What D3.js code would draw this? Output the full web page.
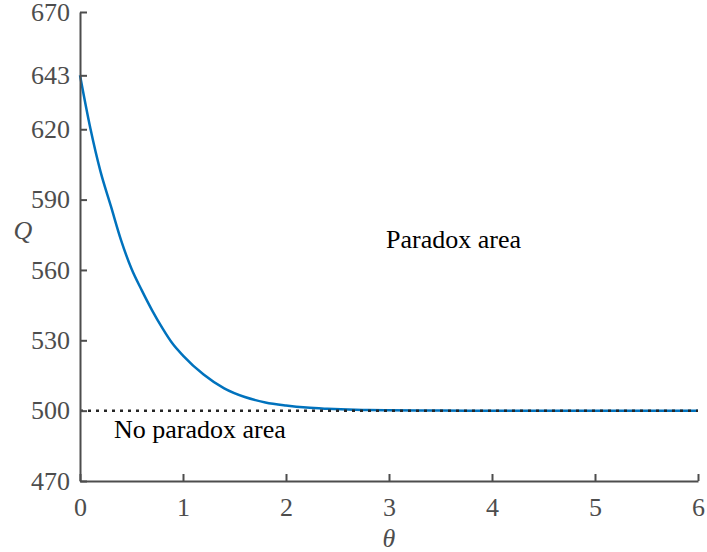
<!DOCTYPE html>
<html>
<head>
<meta charset="utf-8">
<script src="https://cdn.jsdelivr.net/npm/d3@7"></script>
<style>
  body { margin: 0; background: #fff; }
  svg { display: block; }
  svg text { font-family: "Liberation Serif", "Times New Roman", Times, "DejaVu Serif", serif; }
</style>
</head>
<body>
<div id="chart"></div>
<script>
// values
let theta = [0, 0.1, 0.2, 0.3, 0.4, 0.5, 0.6, 0.7, 0.8, 0.9, 1.0, 1.2, 1.4, 1.6, 1.8, 2.0, 2.2, 2.4, 2.6, 2.8, 3.0, 3.5, 4, 5, 6];
let Q = [643, 620.5, 601.8, 587.2, 572.5, 560.5, 551.3, 542.8, 535.2, 528.5, 523.5, 515.4, 509.5, 505.8, 503.5, 502.2, 501.3, 500.8, 500.45, 500.25, 500.12, 500.03, 500, 500, 500];
let threshold = 500;
let xTicks = [0, 1, 2, 3, 4, 5, 6];
let yTicks = [470, 500, 530, 560, 590, 620, 643, 670];
let areaLabels = ["Paradox area", "No paradox area"];

let width = 707, height = 552;
let margin = {top: 12, right: 9, bottom: 71, left: 80};
let axisColor = "#4d4d4d";

let svg = d3.select("#chart").append("svg")
  .attr("width", width)
  .attr("height", height);

let x = d3.scaleLinear().domain([0, 6]).range([margin.left, width - margin.right]);
let y = d3.scaleLinear().domain([470, 670]).range([height - margin.bottom, margin.top]);

// curve
let line = d3.line()
  .x((d, i) => x(theta[i]))
  .y(d => y(d))
  .curve(d3.curveMonotoneX);
svg.append("path")
  .datum(Q)
  .attr("d", line)
  .attr("fill", "none")
  .attr("stroke", "#0072BD")
  .attr("stroke-width", 2.5);

// dotted threshold
svg.append("line")
  .attr("x1", x(0)).attr("x2", x(6))
  .attr("y1", y(threshold)).attr("y2", y(threshold))
  .attr("stroke", "#262626")
  .attr("stroke-width", 2.5)
  .attr("stroke-dasharray", "3,5");

// axes
let xAxis = svg.append("g")
  .attr("transform", `translate(0,${height - margin.bottom})`)
  .call(d3.axisBottom(x).tickValues(xTicks).tickSize(-7).tickPadding(17).tickSizeOuter(0).tickFormat(d3.format("d")));
let yAxis = svg.append("g")
  .attr("transform", `translate(${margin.left},0)`)
  .call(d3.axisLeft(y).tickValues(yTicks).tickSize(-7).tickPadding(10).tickSizeOuter(0).tickFormat(d3.format("d")));

[xAxis, yAxis].forEach(g => {
  g.attr("font-family", null);
  g.select(".domain").attr("stroke", axisColor).attr("stroke-width", 2);
  g.selectAll(".tick line").attr("stroke", axisColor).attr("stroke-width", 2);
  g.selectAll(".tick text")
    .attr("fill", axisColor)
    .style("font-size", "26px");
});

// axis titles
svg.append("text")
  .text("Q")
  .attr("x", 23).attr("y", 239)
  .attr("text-anchor", "middle")
  .style("font-style", "italic").style("font-size", "26px")
  .attr("fill", axisColor);
svg.append("text")
  .text("θ")
  .attr("x", x(3)).attr("y", 547)
  .attr("text-anchor", "middle")
  .style("font-style", "italic").style("font-size", "26px")
  .attr("fill", axisColor);

// area labels
svg.append("text")
  .text(areaLabels[0])
  .attr("x", 386).attr("y", 248)
  .style("font-size", "26px")
  .attr("fill", "#000");
svg.append("text")
  .text(areaLabels[1])
  .attr("x", 114).attr("y", 438)
  .style("font-size", "26px")
  .attr("fill", "#000");
</script>
</body>
</html>
